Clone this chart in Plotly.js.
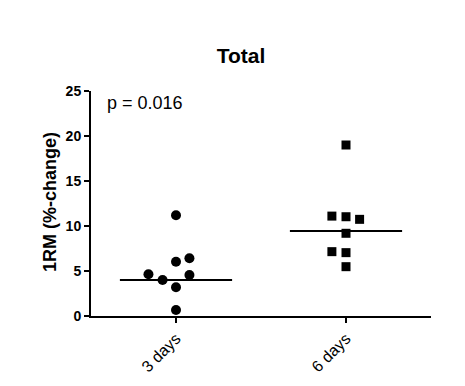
<!DOCTYPE html>
<html>
<head>
<meta charset="utf-8">
<script src="https://cdn.plot.ly/plotly-3.0.1.min.js"></script>
<style>html,body{margin:0;padding:0;background:#fff;}#chart{width:465px;height:386px;}</style>
</head>
<body>
<div id="chart"></div>
<script>
// Data
const categories = ["3 days", "6 days"];
const values3days = [11.2, 6.03, 6.41, 4.63, 4.0, 4.56, 3.19, 0.67];
const offsets3days = [0, 0, 0.079, -0.162, -0.079, 0.079, 0, 0];
const values6days = [19.0, 11.1, 11.03, 10.74, 9.19, 7.15, 7.04, 5.48];
const offsets6days = [0, -0.083, 0, 0.08, 0, -0.083, 0, 0];
const medians = [4.0, 9.45];
const yTicks = [0, 5, 10, 15, 20, 25];
const pText = "p = 0.016";
const yTitle = "1RM (%-change)";
const chartTitle = "Total";

const font = "Liberation Sans, Arial, sans-serif";

const x3 = values3days.map((v, i) => 0 + offsets3days[i]);
const x6 = values6days.map((v, i) => 1 + offsets6days[i]);

const medX = [], medY = [];
medians.forEach((m, i) => {
  medX.push(i - 0.33, i + 0.33, null);
  medY.push(m, m, null);
});

const traces = [
  {x: medX, y: medY, type: "scatter", mode: "lines",
   line: {color: "#000", width: 2}, hoverinfo: "skip", showlegend: false, cliponaxis: false},
  {x: x3, y: values3days, type: "scatter", mode: "markers", name: categories[0],
   marker: {symbol: "circle", size: 10, color: "#000"}, showlegend: false, cliponaxis: false},
  {x: x6, y: values6days, type: "scatter", mode: "markers", name: categories[1],
   marker: {symbol: "square", size: 9, color: "#000"}, showlegend: false, cliponaxis: false}
];

const layout = {
  width: 465, height: 386,
  margin: {l: 91, r: 34, t: 91, b: 70},
  paper_bgcolor: "#fff", plot_bgcolor: "#fff",
  font: {family: font, color: "#000"},
  title: {text: chartTitle, font: {size: 21, family: font, color: "#000", weight: "bold"},
          x: 241 / 465, xref: "container", xanchor: "center",
          y: 1 - 56 / 386, yref: "container", yanchor: "middle"},
  xaxis: {
    range: [-0.5, 1.5], tickmode: "array", tickvals: [0, 1], ticktext: categories,
    tickangle: -45, ticks: "outside", ticklen: 5, tickwidth: 2, tickcolor: "#000",
    showline: true, linecolor: "#000", linewidth: 2, showgrid: false, zeroline: false,
    tickfont: {size: 16, family: font, color: "#000"}, fixedrange: true
  },
  yaxis: {
    range: [0, 25], tickmode: "array", tickvals: yTicks,
    ticks: "outside", ticklen: 5, tickwidth: 2, tickcolor: "#000",
    showline: true, linecolor: "#000", linewidth: 2, showgrid: false, zeroline: false,
    tickfont: {size: 14, family: font, color: "#000", weight: "bold"},
    fixedrange: true
  },
  annotations: [{
    text: pText, xref: "paper", yref: "paper", x: 0.04, y: 1.0,
    xanchor: "left", yanchor: "top", showarrow: false,
    font: {size: 18, family: font, color: "#000"}
  }, {
    text: yTitle, xref: "paper", yref: "paper", x: (50 - 91) / 340, y: (316 - 202) / 225,
    xanchor: "center", yanchor: "middle", textangle: -90, showarrow: false,
    font: {size: 18, family: font, color: "#000", weight: "bold"}
  }]
};

Plotly.newPlot("chart", traces, layout, {displayModeBar: false, staticPlot: true});
</script>
</body>
</html>
